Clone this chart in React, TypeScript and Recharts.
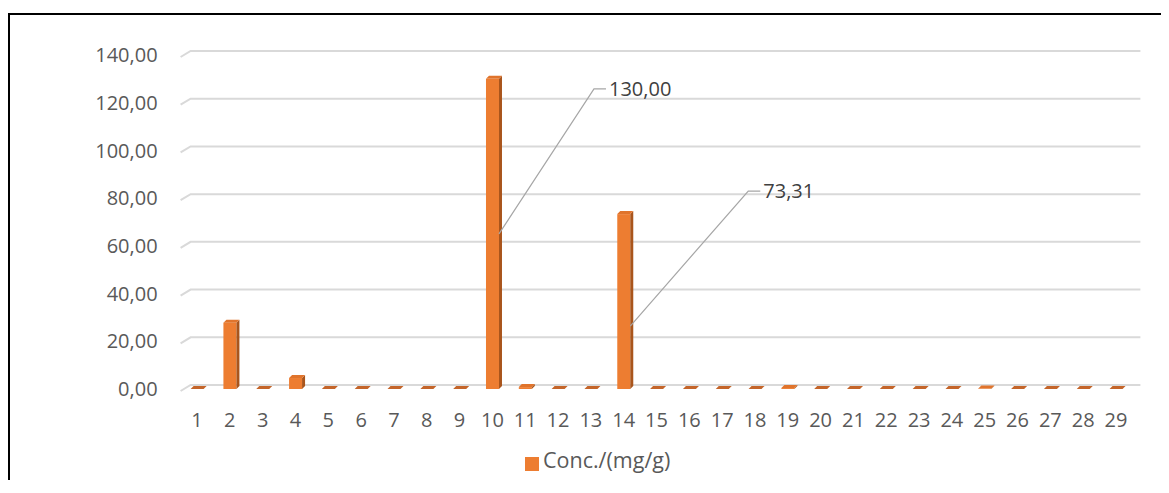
import React from 'react'
import { BarChart, Bar, XAxis, YAxis, CartesianGrid, Legend, LabelList } from 'recharts'

const samples = [
  '1', '2', '3', '4', '5', '6', '7', '8', '9', '10',
  '11', '12', '13', '14', '15', '16', '17', '18', '19', '20',
  '21', '22', '23', '24', '25', '26', '27', '28', '29',
]
const conc = [
  0, 27.8, 0, 4.6, 0, 0, 0, 0, 0, 130.0,
  0.8, 0, 0, 73.31, 0, 0, 0, 0, 0.4, 0,
  0, 0, 0, 0, 0.2, 0, 0, 0, 0,
]
const yTicks = [0, 20, 40, 60, 80, 100, 120, 140]
const labelled = ['10', '14']

const data = samples.map((s, i) => ({ sample: s, conc: conc[i] }))

const FONT = '"Open Sans", sans-serif'
const fmt = (v: number) => v.toFixed(2).replace('.', ',')

// leader line offsets for the two data labels (styling only)
const LEADERS: Record<string, { sy: number; dx: number; dy: number }> = {
  '10': { sy: 0.5, dx: 95, dy: -145 },
  '14': { sy: 0.64, dx: 118, dy: -135 },
}

const D = 3

const Bar3D = (props: any) => {
  const { x, y, width, height } = props
  const h = Math.max(height, 0)
  return (
    <g>
      {h > 0 && <rect x={x} y={y} width={width} height={h} fill="#ED7D31" />}
      {h > 0 && (
        <polygon
          points={`${x + width},${y} ${x + width + D},${y - D} ${x + width + D},${y + h - D} ${x + width},${y + h}`}
          fill="#A9551C"
        />
      )}
      <polygon
        points={`${x},${y} ${x + D},${y - D} ${x + width + D},${y - D} ${x + width},${y}`}
        fill={h > 0 ? '#E0742C' : '#C4652A'}
      />
    </g>
  )
}

const GridLine = (props: any) => {
  const { x1, x2, y1 } = props
  return (
    <path
      key={props.key}
      d={`M${x1},${y1 + 2} L${x1 + 10},${y1 - 4} L${x2 + 8},${y1 - 4}`}
      stroke="#D9D9D9"
      strokeWidth={2}
      fill="none"
    />
  )
}

const LeaderLabel = (props: any) => {
  const { x, y, width, height, value, index } = props
  const key = samples[index]
  if (!labelled.includes(key)) return null
  const o = LEADERS[key]
  const sx = x + width
  const sy = y + height * o.sy
  const ex = sx + o.dx
  const ey = sy + o.dy
  return (
    <g>
      <polyline
        points={`${sx},${sy} ${ex},${ey} ${ex + 12},${ey}`}
        stroke="#A6A6A6"
        strokeWidth={1.2}
        fill="none"
      />
      <text x={ex + 15} y={ey} dy="0.35em" fill="#404040" fontSize={20} fontFamily={FONT}>
        {fmt(value)}
      </text>
    </g>
  )
}

export default function App() {
  return (
    <div
      style={{
        marginTop: 5,
        width: 1159,
        height: 465,
        borderLeft: '2px solid #000',
        borderTop: '2px solid #000',
        overflow: 'hidden',
        background: '#fff',
      }}
    >
      <BarChart
        width={1159}
        height={465}
        data={data}
        margin={{ top: 40, right: 36.6, left: 90.6, bottom: 20 }}
        barCategoryGap={0}
        style={{ fontFamily: FONT }}
      >
        <CartesianGrid vertical={false} horizontal={GridLine} />
        <XAxis
          dataKey="sample"
          axisLine={false}
          tickLine={false}
          tickSize={0}
          tickMargin={24}
          height={42}
          interval={0}
          tick={{ fontSize: 20, fill: '#595959', fontFamily: FONT }}
        />
        <YAxis
          domain={[0, 140]}
          ticks={yTicks}
          width={80}
          axisLine={false}
          tickLine={false}
          tickSize={0}
          tickMargin={23}
          tickFormatter={fmt}
          tick={{ fontSize: 20, fill: '#595959', fontFamily: FONT }}
        />
        <Legend
          verticalAlign="bottom"
          iconType="square"
          iconSize={14}
          wrapperStyle={{ left: 515, width: 'auto', top: 430 }}
          formatter={(v) => <span style={{ fontSize: 21.5, color: '#595959', fontFamily: FONT }}>{v}</span>}
        />
        <Bar
          dataKey="conc"
          name="Conc./(mg/g)"
          fill="#ED7D31"
          barSize={13}
          shape={Bar3D}
          isAnimationActive={false}
        >
          <LabelList dataKey="conc" content={LeaderLabel} />
        </Bar>
      </BarChart>
    </div>
  )
}
